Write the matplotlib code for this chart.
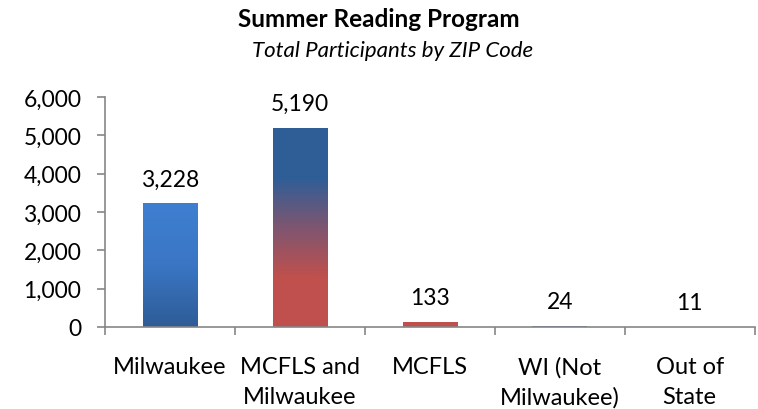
import numpy as np
import matplotlib
matplotlib.use('Agg')
import matplotlib.pyplot as plt
from matplotlib.colors import LinearSegmentedColormap
from matplotlib.ticker import FuncFormatter, FixedLocator

# Données
categories = ['Milwaukee', 'MCFLS and\nMilwaukee', 'MCFLS', 'WI (Not\nMilwaukee)', 'Out of\nState']
participants = [3228, 5190, 133, 24, 11]

plt.rcParams['font.family'] = ['Lato', 'DejaVu Sans']

fig = plt.figure(figsize=(7.58, 4.10), dpi=100)
ax = fig.add_axes([0.1385, 0.2, 0.857, 0.561])

x = np.arange(len(categories))
bars = ax.bar(x, participants, width=0.42, color='none', zorder=2)

# Dégradés de couleur pour chaque barre (haut -> bas)
gradients = [
    ['#2E5C97', '#3A76C4', '#3F7FD1'],
    ['#C0504D', '#C0504D', '#7E5670', '#2F5E97', '#2F5E97'],
    ['#C0504D', '#C0504D'],
    ['#4F81BD', '#4F81BD'],
    ['#4F81BD', '#4F81BD'],
]
for bar, cols in zip(bars, gradients):
    cmap = LinearSegmentedColormap.from_list('g', cols)
    x0, y0 = bar.get_x(), bar.get_y()
    w, h = bar.get_width(), bar.get_height()
    grad = np.linspace(0, 1, 256).reshape(-1, 1)
    im = ax.imshow(grad, cmap=cmap, aspect='auto', origin='lower',
                   extent=(x0, x0 + w, y0, y0 + h), zorder=2)
    im.set_clip_path(bar)

for xi, v in zip(x, participants):
    ax.annotate(f'{v:,}', (xi, v), xytext=(0, 10), textcoords='offset points',
                ha='center', va='bottom', fontsize=16.5)

ax.set_xlim(-0.5, len(categories) - 0.5)
ax.set_ylim(0, 6000)
ax.set_yticks(range(0, 6001, 1000))
ax.yaxis.set_major_formatter(FuncFormatter(lambda v, p: f'{int(v):,}'))
ax.set_xticks(x)
ax.set_xticklabels(categories, fontsize=17, linespacing=1.5)
ax.xaxis.set_minor_locator(FixedLocator(np.arange(-0.5, len(categories), 1.0)))
ax.tick_params(axis='x', which='major', length=0, pad=21)
ax.tick_params(axis='x', which='minor', length=6, color='#868686', width=1.2)
ax.tick_params(axis='y', length=6, color='#868686', width=1.2, labelsize=16.5, pad=11)

for s in ['top', 'right']:
    ax.spines[s].set_visible(False)
for s in ['left', 'bottom']:
    ax.spines[s].set_color('#868686')
    ax.spines[s].set_linewidth(1.2)

fig.text(0.5, 0.952, 'Summer Reading Program', ha='center', va='center',
         fontsize=17.5, fontweight='bold')
fig.text(0.518, 0.875, 'Total Participants by ZIP Code', ha='center', va='center',
         fontsize=16, style='italic')

fig.savefig('out.png', dpi=100)
